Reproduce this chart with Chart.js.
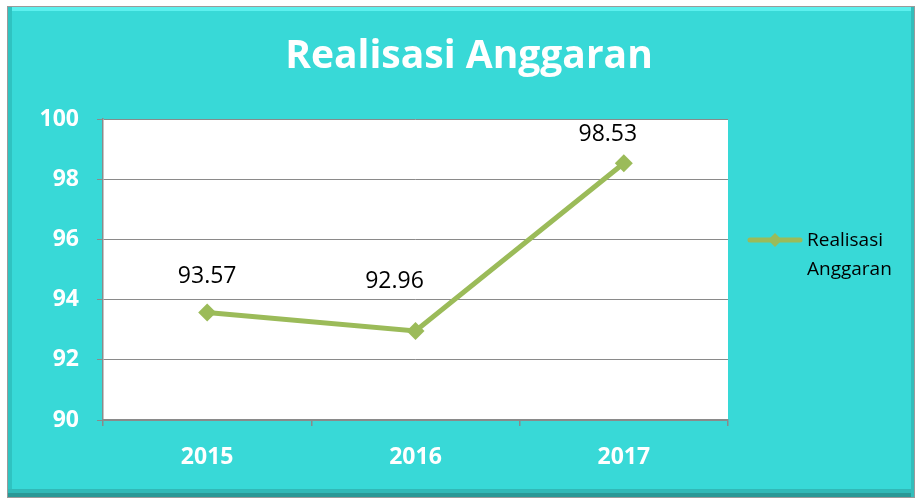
<!DOCTYPE html>
<html>
<head>
<meta charset="utf-8">
<title>Realisasi Anggaran</title>
<script src="https://cdn.jsdelivr.net/npm/chart.js@4/dist/chart.umd.min.js"></script>
<style>
  html, body { margin: 0; padding: 0; background: #ffffff; }
  #wrap { width: 917px; height: 504px; }
</style>
</head>
<body>
<div id="wrap"><canvas id="chart" width="917" height="504"></canvas></div>
<script>
const years = ['2015', '2016', '2017'];
const realisasi = [93.57, 92.96, 98.53];
const seriesName = ['Realisasi', 'Anggaran'];
const chartTitle = 'Realisasi Anggaran';

const TEAL = '#38d9d7';
const GREEN = '#9bbb59';
const GRID = '#8a8a8a';

// background frame + white plot area + title
const framePlugin = {
  id: 'frame',
  beforeDraw(chart) {
    const {ctx, chartArea} = chart;
    ctx.save();
    ctx.fillStyle = '#ffffff';
    ctx.fillRect(0, 0, chart.width, chart.height);

    ctx.fillStyle = TEAL;
    ctx.fillRect(7, 6, 908, 492);

    // bevel
    ctx.fillStyle = '#5cf0ee';
    ctx.fillRect(8, 7, 906, 4);
    ctx.fillStyle = '#2fc3c1';
    ctx.fillRect(8, 7, 4, 490);
    ctx.fillStyle = '#31b9b7';
    ctx.fillRect(8, 489, 906, 4);
    ctx.fillStyle = '#2a9896';
    ctx.fillRect(8, 493, 906, 4);
    ctx.fillStyle = '#33bdbb';
    ctx.fillRect(911, 7, 3, 490);

    ctx.strokeStyle = '#9a9a9a';
    ctx.lineWidth = 1;
    ctx.strokeRect(7.5, 6.5, 907, 491);

    ctx.fillStyle = '#ffffff';
    ctx.fillRect(chartArea.left, chartArea.top, chartArea.right - chartArea.left, chartArea.bottom - chartArea.top);

    ctx.fillStyle = '#ffffff';
    ctx.font = 'bold 39px "Open Sans"';
    ctx.textAlign = 'center';
    ctx.textBaseline = 'middle';
    ctx.fillText(chartTitle, 469, 57);
    ctx.restore();
  }
};

// value labels above points + legend at the right
const labelPlugin = {
  id: 'valueLabels',
  afterDatasetsDraw(chart) {
    const {ctx, chartArea} = chart;
    const meta = chart.getDatasetMeta(0);
    const lift = [36, 49, 29];
    const shift = [0, -21, -16];
    ctx.save();
    ctx.fillStyle = '#000000';
    ctx.font = '23px "Open Sans"';
    ctx.textAlign = 'center';
    ctx.textBaseline = 'middle';
    meta.data.forEach((pt, i) => {
      ctx.fillText(realisasi[i].toFixed(2), pt.x + shift[i], pt.y - lift[i]);
    });

    // legend
    const ly = 240;
    const lx = chartArea.right + 20;
    ctx.strokeStyle = GREEN;
    ctx.lineWidth = 5;
    ctx.lineCap = 'round';
    ctx.beginPath();
    ctx.moveTo(lx + 2, ly);
    ctx.lineTo(lx + 52, ly);
    ctx.stroke();
    ctx.fillStyle = GREEN;
    ctx.beginPath();
    ctx.moveTo(lx + 27, ly - 7);
    ctx.lineTo(lx + 34, ly);
    ctx.lineTo(lx + 27, ly + 7);
    ctx.lineTo(lx + 20, ly);
    ctx.closePath();
    ctx.fill();

    ctx.fillStyle = '#000000';
    ctx.font = '19px "Open Sans"';
    ctx.textAlign = 'left';
    seriesName.forEach((t, i) => {
      ctx.fillText(t, lx + 59, ly + 1 + i * 29);
    });
    ctx.restore();
  }
};

new Chart(document.getElementById('chart'), {
  type: 'line',
  data: {
    labels: years,
    datasets: [{
      label: seriesName.join(' '),
      data: realisasi,
      borderColor: GREEN,
      backgroundColor: GREEN,
      borderWidth: 5,
      pointStyle: 'rectRot',
      pointRadius: 9,
      pointHoverRadius: 9,
      pointBorderWidth: 0,
      tension: 0
    }]
  },
  options: {
    responsive: false,
    animation: false,
    layout: {
      padding: {left: 0, right: 189, top: 119, bottom: 0}
    },
    plugins: {
      legend: {display: false},
      title: {display: false},
      tooltip: {enabled: false}
    },
    scales: {
      x: {
        offset: true,
        afterFit(scale) { scale.height = 84; },
        grid: {
          offset: true,
          drawOnChartArea: false,
          color: GRID,
          tickLength: 6,
          lineWidth: 1.5
        },
        border: {color: GRID, width: 1.5},
        ticks: {
          color: '#ffffff',
          padding: 18,
          font: {family: 'Open Sans', size: 23, weight: 'bold'}
        }
      },
      y: {
        min: 90,
        max: 100,
        afterFit(scale) { scale.width = 103; },
        grid: {
          color: GRID,
          tickLength: 6,
          lineWidth: 1
        },
        border: {color: GRID, width: 1.5},
        ticks: {
          stepSize: 2,
          color: '#ffffff',
          padding: 18,
          font: {family: 'Open Sans', size: 23, weight: 'bold'}
        }
      }
    }
  },
  plugins: [framePlugin, labelPlugin]
});
</script>
</body>
</html>
